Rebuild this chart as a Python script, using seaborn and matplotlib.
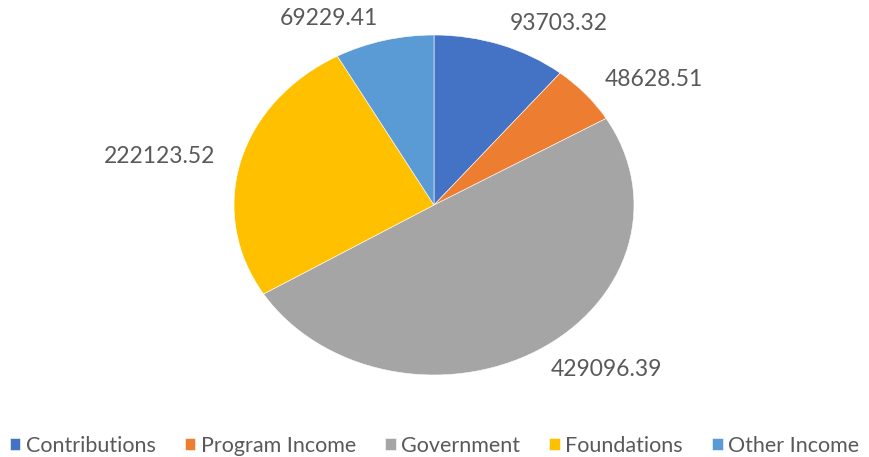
import matplotlib
matplotlib.use("Agg")
import matplotlib.pyplot as plt
import seaborn as sns

sns.set_style("white")
plt.rcParams['font.family'] = ['Lato', 'DejaVu Sans']

# Data
categories = ['Contributions', 'Program Income', 'Government', 'Foundations', 'Other Income']
values = [93703.32, 48628.51, 429096.39, 222123.52, 69229.41]
colors = ['#4472C4', '#ED7D31', '#A5A5A5', '#FFC000', '#5B9BD5']

fig = plt.figure(figsize=(8.69, 4.57), dpi=100)
W, H = 869, 457
# axes box matches the stretched ellipse of the original
ax = fig.add_axes([234 / W, (H - 375) / H, 400 / W, 340 / H])

wedges, texts = ax.pie(values, colors=colors, startangle=90, counterclock=False,
                       labels=[f'{v:.2f}' for v in values], labeldistance=1.13,
                       wedgeprops=dict(edgecolor='white', linewidth=0.4),
                       textprops=dict(fontsize=16.5, color='#595959'))
ax.set_aspect('auto')
ax.set_xlim(-1, 1)
ax.set_ylim(-1, 1)

fig.legend(wedges, categories, loc='lower center', bbox_to_anchor=(0.5, -0.04),
           ncol=5, frameon=False, fontsize=15.5, handlelength=0.5, handleheight=0.5,
           handletextpad=0.25, columnspacing=1.35, labelcolor='#595959')

fig.savefig('out.png', dpi=100)
